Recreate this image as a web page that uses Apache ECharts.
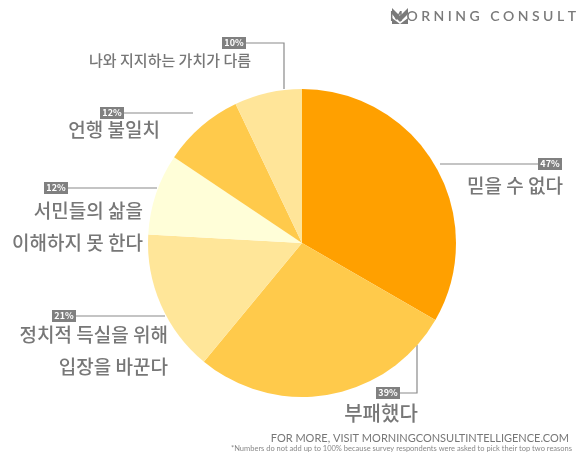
<!DOCTYPE html>
<html><head><meta charset="utf-8">
<script src="https://cdn.jsdelivr.net/npm/echarts@6/dist/echarts.min.js"></script>
<style>html,body{margin:0;padding:0;background:#fff}#c{width:580px;height:458px}</style>
</head><body><div id="c"></div>
<script>
const categories = ['믿을 수 없다','부패했다','정치적 득실을 위해\n입장을 바꾼다','서민들의 삶을\n이해하지 못 한다','언행 불일치','나와 지지하는 가치가 다름'];
const values = [47, 39, 21, 12, 12, 10];
const colors = ['#FFA000','#FFCA4B','#FFE699','#FFFED8','#FFCA4B','#FFE599'];
const pctLabels = values.map(v => v + '%');

const F = '"Noto Sans CJK KR","Noto Sans",sans-serif';
const gray = '#777';
const ann = [
  [538,158,563,186,'right',19,[[440,164],[538,164]]],
  [376,387,381,413,'center',20,[[400,393],[417,393],[417,345]]],
  [52,310,168,351,'right',19,[[75,316],[165,316]]],
  [44,182,143,227,'right',19,[[66,188],[157,188]]],
  [100,107,160,130,'right',19,[[122,113],[193,113]]],
  [222,37,251,60,'right',15,[[246,43],[284,43],[284,89]]]
];
const graphic = [];
ann.forEach((a,i)=>{
  graphic.push({type:'polyline',shape:{points:a[6]},style:{stroke:'#8a8a8a',lineWidth:1.2,fill:null}});
  graphic.push({type:'rect',shape:{x:a[0],y:a[1],width:24,height:12},style:{fill:'#808080'}});
  graphic.push({type:'text',x:a[0]+12,y:a[1]+6,style:{text:pctLabels[i],fill:'#fff',font:'bold 9px '+F,align:'center',verticalAlign:'middle'}});
  graphic.push({type:'text',x:a[2],y:a[3],style:{text:categories[i],fill:gray,font:'500 '+a[5]+'px '+F,align:a[4],verticalAlign:'middle',lineHeight:32}});
});
graphic.push({type:'polygon',shape:{points:[[392,8],[400,16],[408,8],[408,14],[400,22],[392,14]]},style:{fill:'#7a7a7a'}});
graphic.push({type:'polygon',shape:{points:[[392,18],[400,24],[408,18],[408,24],[392,24]]},style:{fill:'#7a7a7a'}});
graphic.push({type:'text',x:576,y:16,style:{text:'M O R N I N G   C O N S U L T',fill:'#7a7a7a',font:'600 14px "Lato","Open Sans",sans-serif',align:'right',verticalAlign:'middle'}});
graphic.push({type:'text',x:569,y:438,style:{text:'FOR MORE, VISIT MORNINGCONSULTINTELLIGENCE.COM',fill:'#777',font:'11px "Lato",sans-serif',align:'right',verticalAlign:'middle'}});
graphic.push({type:'text',x:572,y:449,style:{text:'*Numbers do not add up to 100% because survey respondents were asked to pick their top two reasons',fill:'#888',font:'7.5px "Lato",sans-serif',align:'right',verticalAlign:'middle'}});

const chart = echarts.init(document.getElementById('c'));
chart.setOption({
  animation:false,
  series:[{type:'pie',center:[302,243],radius:[0,154],startAngle:90,clockwise:true,
    label:{show:false},labelLine:{show:false},
    data:values.map((v,i)=>({value:v,name:categories[i],itemStyle:{color:colors[i]}}))}],
  graphic:graphic
});
</script></body></html>
